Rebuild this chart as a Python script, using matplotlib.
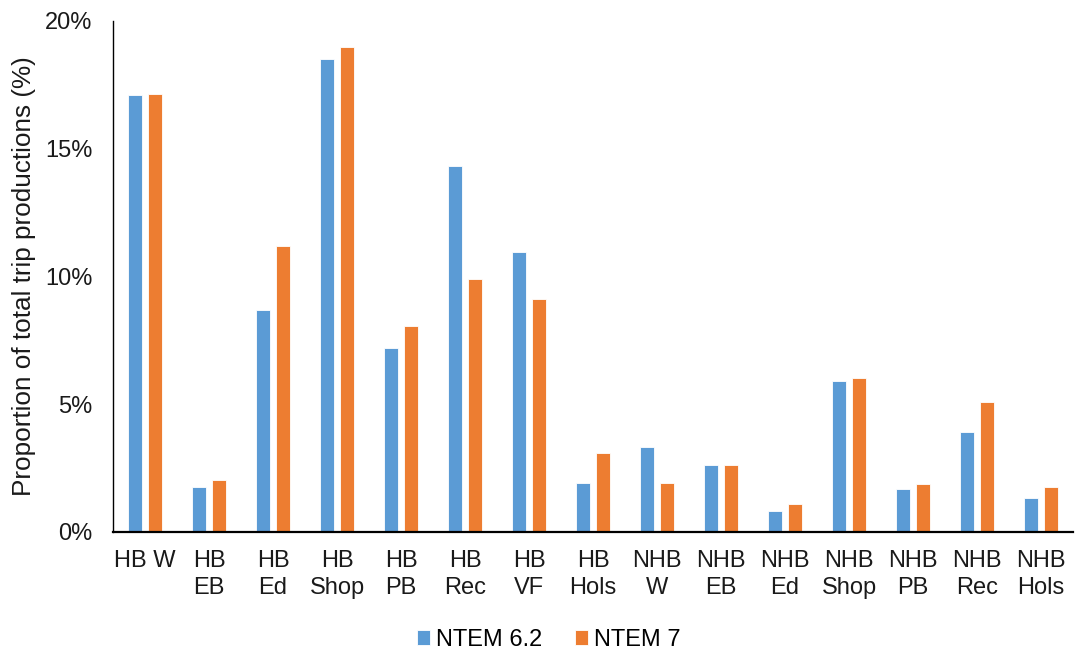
import numpy as np
import matplotlib
matplotlib.use('Agg')
import matplotlib.pyplot as plt
from matplotlib.ticker import FuncFormatter

plt.rcParams['font.family'] = ['Liberation Sans', 'DejaVu Sans']

# Trip purposes (home-based / non-home-based)
categories = ['HB W', 'HB\nEB', 'HB\nEd', 'HB\nShop', 'HB\nPB', 'HB\nRec', 'HB\nVF', 'HB\nHols',
              'NHB\nW', 'NHB\nEB', 'NHB\nEd', 'NHB\nShop', 'NHB\nPB', 'NHB\nRec', 'NHB\nHols']

# Share of total trip productions (%)
ntem_62 = [17.1, 1.78, 8.7, 18.5, 7.2, 14.33, 10.97, 1.9, 3.32, 2.61, 0.82, 5.89, 1.67, 3.93, 1.32]
ntem_7 = [17.15, 2.04, 11.2, 19.0, 8.05, 9.9, 9.1, 3.08, 1.9, 2.61, 1.11, 6.02, 1.87, 5.09, 1.76]

bleu = '#5B9BD5'
orange = '#ED7D31'
texte = '#1a1a1a'

x = np.arange(len(categories))
larg = 0.22

fig = plt.figure(figsize=(10.79, 6.55), dpi=100)
ax = fig.add_axes([0.1047, 0.1878, 0.8897, 0.7802])

ax.bar(x - 0.15, ntem_62, larg, color=bleu, edgecolor='white', linewidth=0.6, label='NTEM 6.2')
ax.bar(x + 0.15, ntem_7, larg, color=orange, edgecolor='white', linewidth=0.6, label='NTEM 7')

ax.set_xlim(-0.5, len(categories) - 0.5)
ax.set_ylim(0, 20)
ax.set_yticks([0, 5, 10, 15, 20])
ax.yaxis.set_major_formatter(FuncFormatter(lambda v, p: '{:.0f}%'.format(v)))

ax.set_xticks(x)
ax.set_xticklabels(categories, fontsize=17, color=texte, linespacing=1.32, va='top')
ax.tick_params(axis='both', length=0, labelsize=17, colors=texte)
ax.tick_params(axis='x', pad=13)
ax.tick_params(axis='y', pad=15)

for s in ['top', 'right']:
    ax.spines[s].set_visible(False)
ax.spines['left'].set_linewidth(1.0)
ax.spines['bottom'].set_linewidth(1.6)

ax.set_ylabel('Proportion of total trip productions (%)', fontsize=18.8, color=texte)
ax.yaxis.set_label_coords(-0.08, 0.5)

ax.legend(loc='center', bbox_to_anchor=(0.454, -0.211), ncol=2, frameon=False,
          fontsize=17, handlelength=0.55, handleheight=0.55, handletextpad=0.25, columnspacing=1.4)

fig.savefig('out.png', dpi=100)
